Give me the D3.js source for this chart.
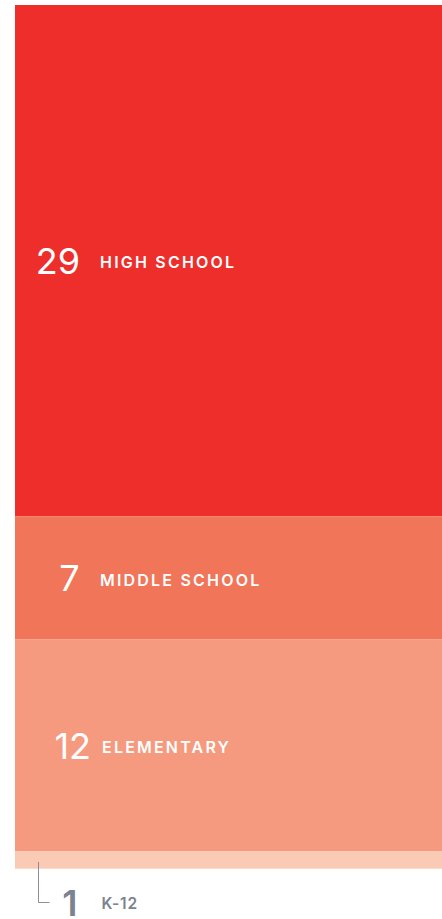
<!DOCTYPE html>
<html><head><meta charset="utf-8">
<script src="https://cdn.jsdelivr.net/npm/d3@7"></script>
<style>html,body{margin:0;padding:0;background:#fff;overflow:hidden}</style>
</head><body>
<script>
const categories = ["HIGH SCHOOL", "MIDDLE SCHOOL", "ELEMENTARY", "K-12"];
const values = [29, 7, 12, 1];
const colors = ["#ee2e2b", "#f07559", "#f59a7e", "#fbcab4"];

const W = 442, H = 919;
const svg = d3.select("body").append("svg").attr("width", W).attr("height", H);

const total = d3.sum(values);
const y = d3.scaleLinear().domain([0, total]).range([5, 868.7]);
const x0 = 15;

let cum = 0;
const segs = values.map((v, i) => { const s = {v, i, c: categories[i], y0: cum, y1: cum + v}; cum += v; return s; });

svg.selectAll("rect.seg").data(segs).enter().append("rect")
  .attr("x", x0).attr("width", W - x0)
  .attr("y", d => y(d.y0)).attr("height", d => y(d.y1) - y(d.y0))
  .attr("fill", (d, i) => colors[i]);

const font = "Inter, 'Open Sans', sans-serif";
const inside = segs.slice(0, 3);
const numEnd = [80, 79.5, 91];
const labX = [100, 100, 102];

inside.forEach((d, i) => {
  const cy = (y(d.y0) + y(d.y1)) / 2;
  svg.append("text").attr("x", numEnd[i]).attr("y", cy + 13.5)
    .attr("text-anchor", "end").attr("fill", "#fff")
    .style("font-family", font).style("font-size", "36px").style("font-weight", 400)
    .text(d.v);
  svg.append("text").attr("x", labX[i]).attr("y", cy + 7.8)
    .attr("fill", "#fff")
    .style("font-family", font).style("font-size", "16px").style("font-weight", 600)
    .style("letter-spacing", "2.2px")
    .text(d.c);
});

// K-12 outside
const k = segs[3];
const gray = "#7b8290";
svg.append("path")
  .attr("d", `M38.5,862V902.5H49.5`)
  .attr("fill", "none").attr("stroke", "#8a909a").attr("stroke-width", 1);
svg.append("text").attr("x", 77.5).attr("y", 915.5)
  .attr("text-anchor", "end").attr("fill", gray)
  .style("font-family", font).style("font-size", "36px").style("font-weight", 600)
  .text(k.v);
svg.append("text").attr("x", 101.5).attr("y", 909)
  .attr("fill", gray)
  .style("font-family", font).style("font-size", "15.5px").style("font-weight", 600)
  .style("letter-spacing", "0.9px")
  .text(k.c);
</script>
</body></html>
